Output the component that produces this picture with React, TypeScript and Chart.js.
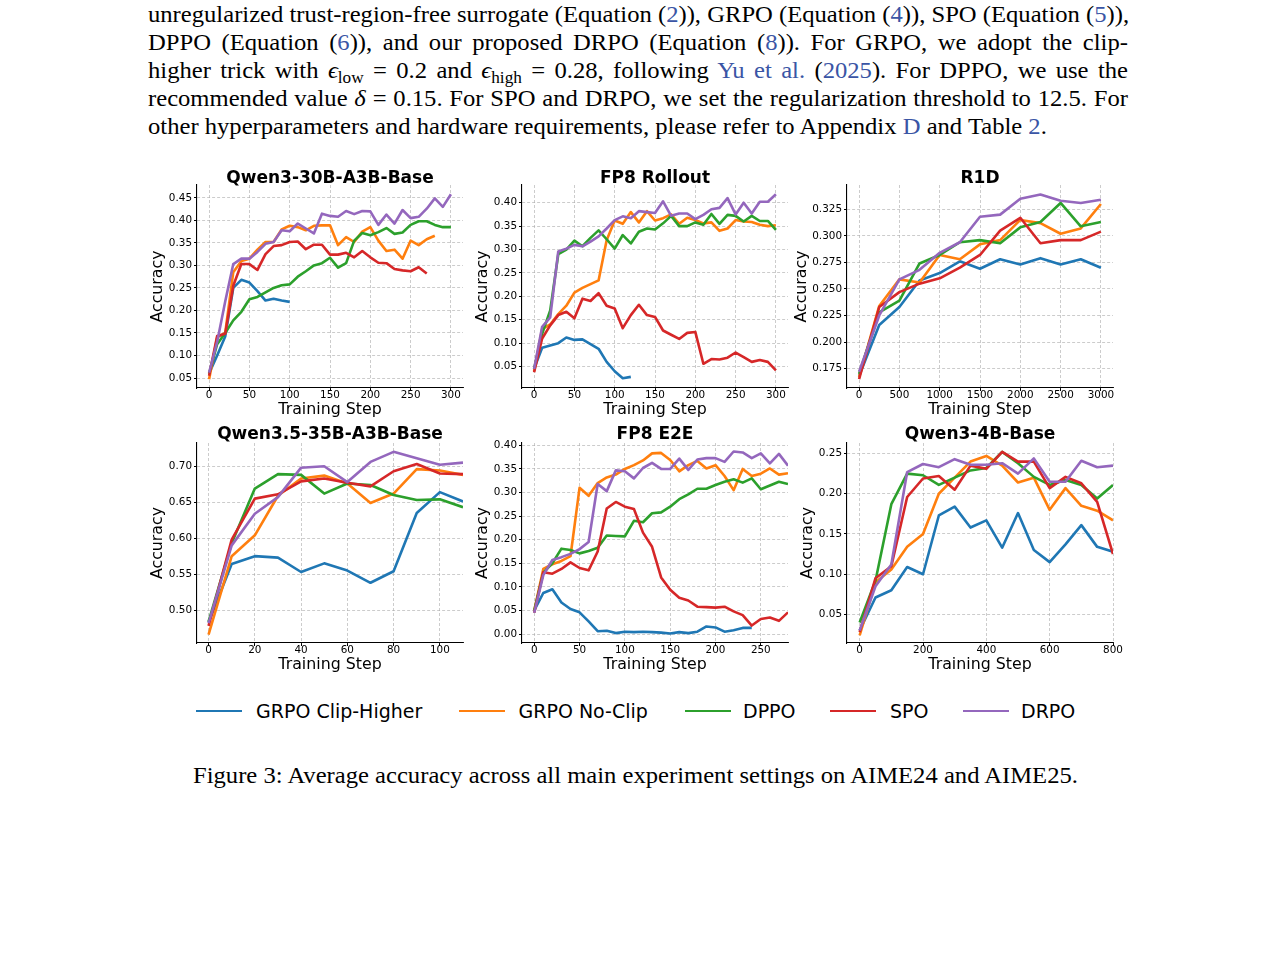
import React, { useEffect, useRef } from "react";
import { Chart, registerables } from "chart.js";

Chart.register(...registerables);

// ---------------- data ----------------
const SERIES_NAMES = ["GRPO Clip-Higher", "GRPO No-Clip", "DPPO", "SPO", "DRPO"];
const SERIES_COLORS = ["#1f77b4", "#ff7f0e", "#2ca02c", "#d62728", "#9467bd"];

// Panel 1: Qwen3-30B-A3B-Base
const p1Steps = [0, 10, 20, 30, 40, 50, 60, 70, 80, 90, 100, 110, 120, 130, 140, 150, 160, 170, 180, 190, 200, 210, 220, 230, 240, 250, 260, 270, 280, 290, 300];
const p1Clip = [0.060, 0.100, 0.142, 0.250, 0.268, 0.262, 0.243, 0.222, 0.226, 0.222, 0.219];
const p1NoClip = [0.047, 0.140, 0.150, 0.285, 0.310, 0.315, 0.335, 0.352, 0.352, 0.380, 0.388, 0.385, 0.378, 0.388, 0.389, 0.389, 0.345, 0.363, 0.352, 0.375, 0.385, 0.355, 0.332, 0.335, 0.315, 0.355, 0.345, 0.358, 0.366];
const p1Dppo = [0.060, 0.125, 0.150, 0.178, 0.197, 0.225, 0.230, 0.240, 0.250, 0.256, 0.258, 0.275, 0.287, 0.300, 0.305, 0.317, 0.295, 0.305, 0.355, 0.372, 0.367, 0.374, 0.383, 0.370, 0.373, 0.390, 0.398, 0.398, 0.390, 0.385, 0.385];
const p1Spo = [0.055, 0.143, 0.148, 0.255, 0.303, 0.303, 0.290, 0.325, 0.343, 0.345, 0.352, 0.353, 0.336, 0.346, 0.346, 0.324, 0.324, 0.328, 0.318, 0.332, 0.318, 0.306, 0.305, 0.292, 0.289, 0.287, 0.296, 0.282];
const p1Drpo = [0.062, 0.130, 0.220, 0.303, 0.315, 0.315, 0.330, 0.348, 0.352, 0.378, 0.376, 0.393, 0.382, 0.371, 0.415, 0.410, 0.408, 0.421, 0.414, 0.421, 0.420, 0.390, 0.413, 0.393, 0.423, 0.405, 0.408, 0.426, 0.449, 0.430, 0.458];

// Panel 2: FP8 Rollout
const p2Steps = [0, 10, 20, 30, 40, 50, 60, 70, 80, 90, 100, 110, 120, 130, 140, 150, 160, 170, 180, 190, 200, 210, 220, 230, 240, 250, 260, 270, 280, 290, 300];
const p2Clip = [0.045, 0.090, 0.095, 0.100, 0.112, 0.107, 0.108, 0.098, 0.088, 0.060, 0.040, 0.025, 0.028];
const p2NoClip = [0.040, 0.130, 0.140, 0.162, 0.180, 0.208, 0.218, 0.226, 0.234, 0.320, 0.362, 0.355, 0.380, 0.358, 0.382, 0.362, 0.367, 0.375, 0.355, 0.368, 0.363, 0.356, 0.358, 0.340, 0.345, 0.363, 0.360, 0.359, 0.353, 0.350, 0.352];
const p2Dppo = [0.045, 0.120, 0.170, 0.290, 0.300, 0.319, 0.307, 0.325, 0.341, 0.322, 0.302, 0.331, 0.313, 0.338, 0.345, 0.343, 0.356, 0.372, 0.350, 0.350, 0.358, 0.353, 0.376, 0.355, 0.374, 0.372, 0.360, 0.372, 0.361, 0.361, 0.342];
const p2Spo = [0.038, 0.110, 0.138, 0.160, 0.167, 0.153, 0.195, 0.190, 0.207, 0.180, 0.174, 0.132, 0.160, 0.182, 0.160, 0.156, 0.127, 0.118, 0.109, 0.122, 0.124, 0.056, 0.066, 0.065, 0.069, 0.080, 0.070, 0.060, 0.064, 0.060, 0.042];
const p2Drpo = [0.045, 0.135, 0.155, 0.296, 0.302, 0.310, 0.307, 0.317, 0.328, 0.345, 0.363, 0.371, 0.367, 0.382, 0.380, 0.378, 0.403, 0.372, 0.377, 0.377, 0.365, 0.374, 0.386, 0.389, 0.410, 0.375, 0.400, 0.377, 0.402, 0.402, 0.418];

// Panel 3: R1D
const p3Steps = [0, 250, 500, 750, 1000, 1250, 1500, 1750, 2000, 2250, 2500, 2750, 3000];
const p3Clip = [0.168, 0.216, 0.233, 0.258, 0.265, 0.276, 0.269, 0.278, 0.273, 0.279, 0.273, 0.278, 0.270];
const p3NoClip = [0.167, 0.234, 0.259, 0.256, 0.282, 0.278, 0.292, 0.296, 0.315, 0.312, 0.302, 0.307, 0.330];
const p3Dppo = [0.170, 0.228, 0.239, 0.274, 0.282, 0.294, 0.296, 0.293, 0.308, 0.313, 0.331, 0.309, 0.313];
const p3Spo = [0.165, 0.233, 0.247, 0.255, 0.260, 0.270, 0.282, 0.305, 0.317, 0.293, 0.296, 0.296, 0.304];
const p3Drpo = [0.172, 0.225, 0.259, 0.268, 0.284, 0.294, 0.318, 0.320, 0.335, 0.339, 0.333, 0.331, 0.334];

// Panel 4: Qwen3.5-35B-A3B-Base
const p4Steps = [0, 10, 20, 30, 40, 50, 60, 70, 80, 90, 100, 110];
const p4Clip = [0.483, 0.564, 0.575, 0.573, 0.553, 0.565, 0.555, 0.538, 0.554, 0.635, 0.664, 0.651];
const p4NoClip = [0.466, 0.575, 0.604, 0.659, 0.683, 0.687, 0.676, 0.649, 0.662, 0.696, 0.694, 0.688];
const p4Dppo = [0.484, 0.593, 0.669, 0.689, 0.688, 0.662, 0.676, 0.674, 0.660, 0.653, 0.654, 0.643];
const p4Spo = [0.478, 0.598, 0.655, 0.661, 0.679, 0.683, 0.677, 0.672, 0.693, 0.703, 0.690, 0.689];
const p4Drpo = [0.482, 0.590, 0.634, 0.657, 0.698, 0.700, 0.678, 0.706, 0.720, 0.711, 0.702, 0.705];

// Panel 5: FP8 E2E
const p5Steps = [0, 10, 20, 30, 40, 50, 60, 70, 80, 90, 100, 110, 120, 130, 140, 150, 160, 170, 180, 190, 200, 210, 220, 230, 240, 250, 260, 270, 280];
const p5Clip = [0.050, 0.087, 0.095, 0.067, 0.053, 0.046, 0.027, 0.006, 0.007, 0.002, 0.005, 0.004, 0.005, 0.004, 0.003, 0.001, 0.004, 0.002, 0.005, 0.016, 0.014, 0.005, 0.008, 0.013, 0.013];
const p5NoClip = [0.050, 0.138, 0.148, 0.155, 0.165, 0.310, 0.293, 0.320, 0.332, 0.338, 0.350, 0.358, 0.368, 0.383, 0.384, 0.369, 0.345, 0.358, 0.367, 0.351, 0.358, 0.335, 0.305, 0.350, 0.335, 0.340, 0.351, 0.338, 0.341];
const p5Dppo = [0.050, 0.130, 0.150, 0.181, 0.178, 0.171, 0.176, 0.183, 0.209, 0.208, 0.207, 0.240, 0.237, 0.256, 0.258, 0.270, 0.286, 0.296, 0.308, 0.308, 0.316, 0.323, 0.328, 0.321, 0.330, 0.307, 0.315, 0.323, 0.318];
const p5Spo = [0.045, 0.131, 0.128, 0.138, 0.152, 0.140, 0.135, 0.175, 0.266, 0.280, 0.270, 0.265, 0.215, 0.185, 0.120, 0.094, 0.077, 0.071, 0.058, 0.057, 0.056, 0.058, 0.048, 0.040, 0.018, 0.032, 0.035, 0.028, 0.046];
const p5Drpo = [0.045, 0.125, 0.157, 0.163, 0.170, 0.180, 0.195, 0.318, 0.303, 0.347, 0.345, 0.330, 0.352, 0.363, 0.350, 0.350, 0.372, 0.348, 0.370, 0.373, 0.373, 0.365, 0.387, 0.385, 0.373, 0.383, 0.362, 0.382, 0.357];

// Panel 6: Qwen3-4B-Base
const p6Steps = [0, 50, 100, 150, 200, 250, 300, 350, 400, 450, 500, 550, 600, 650, 700, 750, 800];
const p6Clip = [0.030, 0.071, 0.080, 0.109, 0.100, 0.173, 0.184, 0.158, 0.167, 0.133, 0.176, 0.130, 0.115, 0.137, 0.161, 0.134, 0.128];
const p6NoClip = [0.024, 0.090, 0.106, 0.134, 0.150, 0.200, 0.220, 0.240, 0.247, 0.235, 0.214, 0.220, 0.180, 0.207, 0.185, 0.179, 0.167];
const p6Dppo = [0.040, 0.092, 0.187, 0.225, 0.223, 0.211, 0.220, 0.229, 0.232, 0.252, 0.238, 0.221, 0.211, 0.217, 0.211, 0.194, 0.211];
const p6Spo = [0.028, 0.095, 0.110, 0.196, 0.219, 0.222, 0.205, 0.235, 0.231, 0.252, 0.240, 0.240, 0.207, 0.221, 0.213, 0.190, 0.125];
const p6Drpo = [0.030, 0.085, 0.112, 0.227, 0.237, 0.233, 0.243, 0.236, 0.236, 0.238, 0.225, 0.244, 0.215, 0.215, 0.241, 0.233, 0.235];

// tick labels
const xTicks300 = [0, 50, 100, 150, 200, 250, 300];
const xTicks3000 = [0, 500, 1000, 1500, 2000, 2500, 3000];
const xTicks100 = [0, 20, 40, 60, 80, 100];
const xTicks250 = [0, 50, 100, 150, 200, 250];
const xTicks800 = [0, 200, 400, 600, 800];
const yTicksP1 = [0.05, 0.10, 0.15, 0.20, 0.25, 0.30, 0.35, 0.40, 0.45];
const yTicksP2 = [0.05, 0.10, 0.15, 0.20, 0.25, 0.30, 0.35, 0.40];
const yTicksP3 = [0.175, 0.200, 0.225, 0.250, 0.275, 0.300, 0.325];
const yTicksP4 = [0.50, 0.55, 0.60, 0.65, 0.70];
const yTicksP5 = [0.00, 0.05, 0.10, 0.15, 0.20, 0.25, 0.30, 0.35, 0.40];
const yTicksP6 = [0.05, 0.10, 0.15, 0.20, 0.25];

// ---------------- layout / style ----------------
const SANS = '"DejaVu Sans", sans-serif';
const SERIF = '"Liberation Serif", "Times New Roman", serif';
const LINK = "#3a55a5";
const GRID_COLOR = "rgba(170,170,170,0.75)";

const PANELS = [
  { title: "Qwen3-30B-A3B-Base", steps: p1Steps, series: [p1Clip, p1NoClip, p1Dppo, p1Spo, p1Drpo], xMin: -15, xMax: 315, xTicks: xTicks300, yMin: 0.0278, yMax: 0.4786, yTicks: yTicksP1, yDec: 2, left: 197, top: 185, w: 266, h: 203, ylabOff: 39, titleOff: 6.5 },
  { title: "FP8 Rollout", steps: p2Steps, series: [p2Clip, p2NoClip, p2Dppo, p2Spo, p2Drpo], xMin: -15, xMax: 315, xTicks: xTicks300, yMin: 0.0042, yMax: 0.4379, yTicks: yTicksP2, yDec: 2, left: 522, top: 185, w: 266, h: 203, ylabOff: 39, titleOff: 6.5 },
  { title: "R1D", steps: p3Steps, series: [p3Clip, p3NoClip, p3Dppo, p3Spo, p3Drpo], xMin: -150, xMax: 3150, xTicks: xTicks3000, yMin: 0.1567, yMax: 0.3479, yTicks: yTicksP3, yDec: 3, left: 847, top: 185, w: 266, h: 203, ylabOff: 45, titleOff: 6.5 },
  { title: "Qwen3.5-35B-A3B-Base", steps: p4Steps, series: [p4Clip, p4NoClip, p4Dppo, p4Spo, p4Drpo], xMin: -5, xMax: 110, xTicks: xTicks100, yMin: 0.4543, yMax: 0.7323, yTicks: yTicksP4, yDec: 2, left: 197, top: 443, w: 266, h: 200, ylabOff: 39, titleOff: 8.5 },
  { title: "FP8 E2E", steps: p5Steps, series: [p5Clip, p5NoClip, p5Dppo, p5Spo, p5Drpo], xMin: -13.5, xMax: 280, xTicks: xTicks250, yMin: -0.019, yMax: 0.405, yTicks: yTicksP5, yDec: 2, left: 522, top: 443, w: 266, h: 200, ylabOff: 39, titleOff: 8.5 },
  { title: "Qwen3-4B-Base", steps: p6Steps, series: [p6Clip, p6NoClip, p6Dppo, p6Spo, p6Drpo], xMin: -40, xMax: 800, xTicks: xTicks800, yMin: 0.0145, yMax: 0.2631, yTicks: yTicksP6, yDec: 2, left: 847, top: 443, w: 266, h: 200, ylabOff: 39, titleOff: 8.5 },
];

const L = 58, T = 26, R = 16, B = 30;

function Panel({ cfg }: { cfg: any }) {
  const ref = useRef<HTMLCanvasElement | null>(null);
  const W = cfg.w + L + R;
  const H = cfg.h + T + B;
  useEffect(() => {
    const canvas = ref.current;
    if (!canvas) return;
    const titlePlugin = {
      id: "panelTitle",
      afterDraw(chart: any) {
        const { ctx, chartArea } = chart;
        ctx.save();
        ctx.font = `bold 17px ${SANS}`;
        ctx.fillStyle = "#000";
        ctx.textAlign = "center";
        ctx.textBaseline = "middle";
        ctx.fillText(cfg.title, (chartArea.left + chartArea.right) / 2, chartArea.top - cfg.titleOff);
        ctx.restore();
      },
    };
    const tickFont = { family: SANS, size: 10.4, lineHeight: 1 };
    const titleFont = { family: SANS, size: 15.8, lineHeight: 1 };
    const chart = new Chart(canvas, {
      type: "line",
      data: {
        datasets: cfg.series.map((vals: number[], i: number) => ({
          label: SERIES_NAMES[i],
          data: vals.map((v, j) => ({ x: cfg.steps[j], y: v })),
          borderColor: SERIES_COLORS[i],
          backgroundColor: SERIES_COLORS[i],
          borderWidth: 2.6,
          pointRadius: 0,
          pointHoverRadius: 0,
          tension: 0,
          fill: false,
          borderJoinStyle: "round",
          borderCapStyle: "butt",
          order: 4 - i,
        })),
      },
      options: {
        responsive: false,
        maintainAspectRatio: false,
        animation: false,
        events: [],
        layout: { padding: { top: T, right: R, left: 0, bottom: 0 } },
        plugins: { legend: { display: false }, tooltip: { enabled: false }, title: { display: false } },
        scales: {
          x: {
            type: "linear",
            bounds: "data",
            min: cfg.xMin,
            max: cfg.xMax,
            afterBuildTicks: (s: any) => { s.ticks = cfg.xTicks.map((v: number) => ({ value: v })); },
            afterFit: (s: any) => { s.height = B; s.paddingLeft = 0; s.paddingRight = 0; },
            ticks: { autoSkip: false, maxRotation: 0, minRotation: 0, padding: -0.8, color: "#000", font: tickFont, callback: (v: any) => String(v) },
            grid: { color: GRID_COLOR, lineWidth: 0.8, tickColor: "#000", tickLength: 3, tickWidth: 1 },
            border: { color: "#000", width: 1.1, dash: [3, 2], z: 1 },
            title: { display: true, text: "Training Step", color: "#000", font: titleFont, padding: { top: 0, bottom: 0.6 } },
          },
          y: {
            type: "linear",
            bounds: "data",
            min: cfg.yMin,
            max: cfg.yMax,
            afterBuildTicks: (s: any) => { s.ticks = cfg.yTicks.map((v: number) => ({ value: v })); },
            afterFit: (s: any) => { s.width = L; s.paddingTop = 0; s.paddingBottom = 0; },
            ticks: { autoSkip: false, padding: 2, color: "#000", font: tickFont, callback: (v: any) => Number(v).toFixed(cfg.yDec) },
            grid: { color: GRID_COLOR, lineWidth: 0.8, tickColor: "#000", tickLength: 3, tickWidth: 1 },
            border: { color: "#000", width: 1.1, dash: [3, 2], z: 1 },
            title: { display: true, text: "Accuracy", color: "#000", font: titleFont, padding: { top: L - cfg.ylabOff - 7.9, bottom: 0 } },
          },
        },
      } as any,
      plugins: [titlePlugin],
    });
    return () => chart.destroy();
  }, [cfg]);
  return (
    <canvas
      ref={ref}
      width={W}
      height={H}
      style={{ position: "absolute", left: cfg.left - L, top: cfg.top - T, width: W, height: H }}
    />
  );
}

const CAPTION = "Figure 3: Average accuracy across all main experiment settings on AIME24 and AIME25.";

function measureWidth(text: string, font: string) {
  const c = document.createElement("canvas").getContext("2d");
  if (!c) return 800;
  c.font = font;
  return c.measureText(text).width;
}

const LEGEND_POS = [
  { lineX: 196, textX: 256 },
  { lineX: 459, textX: 518.5 },
  { lineX: 684.5, textX: 743 },
  { lineX: 830, textX: 890 },
  { lineX: 963, textX: 1021 },
];

export default function App() {
  const k = 889 / measureWidth(CAPTION, `23px "Liberation Serif"`);
  const baselines = [23, 51, 79, 107, 135];
  const asc = 21.76; // offset from line top to baseline for 23px / 28px line height
  const L1 = <>unregularized trust-region-free surrogate (Equation (<span style={{ color: LINK }}>2</span>)), GRPO (Equation (<span style={{ color: LINK }}>4</span>)), SPO (Equation (<span style={{ color: LINK }}>5</span>)),</>;
  const L2 = <>DPPO (Equation (<span style={{ color: LINK }}>6</span>)), and our proposed DRPO (Equation (<span style={{ color: LINK }}>8</span>)). For GRPO, we adopt the clip-</>;
  const subStyle: React.CSSProperties = { fontSize: "0.7em", verticalAlign: "-0.28em", lineHeight: 0 };
  const L3 = <>higher trick with <i>ϵ</i><sub style={subStyle}>low</sub> = 0.2 and <i>ϵ</i><sub style={subStyle}>high</sub> = 0.28, following <span style={{ color: LINK }}>Yu et al.</span> (<span style={{ color: LINK }}>2025</span>). For DPPO, we use the</>;
  const L4 = <>recommended value <i>δ</i> = 0.15. For SPO and DRPO, we set the regularization threshold to 12.5. For</>;
  const L5 = <>other hyperparameters and hardware requirements, please refer to Appendix <span style={{ color: LINK }}>D</span> and Table <span style={{ color: LINK }}>2</span>.</>;
  const lines = [L1, L2, L3, L4, L5];

  return (
    <div style={{ position: "absolute", left: 0, top: 0, width: 1275, height: 973, overflow: "hidden", background: "#fff" }}>
      {lines.map((content, i) => (
        <div
          key={i}
          style={{
            position: "absolute",
            left: 148,
            top: baselines[i] - asc,
            width: 980 / k,
            transform: `scaleX(${k})`,
            transformOrigin: "0 0",
            fontFamily: SERIF,
            fontSize: 23,
            lineHeight: "28px",
            whiteSpace: "nowrap",
            textAlign: "justify",
            textAlignLast: i === 4 ? "left" : "justify",
            color: "#000",
          } as React.CSSProperties}
        >
          {content}
        </div>
      ))}

      {PANELS.map((p, i) => (
        <Panel key={i} cfg={p} />
      ))}

      {SERIES_NAMES.map((name, i) => (
        <React.Fragment key={name}>
          <div style={{ position: "absolute", left: LEGEND_POS[i].lineX, top: 709.6, width: 46, height: 2.8, background: SERIES_COLORS[i] }} />
          <div style={{ position: "absolute", left: LEGEND_POS[i].textX, top: 701.6, fontFamily: SANS, fontSize: 19, lineHeight: "19px", whiteSpace: "nowrap", color: "#000" }}>
            {name}
          </div>
        </React.Fragment>
      ))}

      <div
        style={{
          position: "absolute",
          left: 193,
          top: 784 - asc,
          transform: `scaleX(${k})`,
          transformOrigin: "0 0",
          fontFamily: SERIF,
          fontSize: 23,
          lineHeight: "28px",
          whiteSpace: "nowrap",
          color: "#000",
        }}
      >
        {CAPTION}
      </div>
    </div>
  );
}
